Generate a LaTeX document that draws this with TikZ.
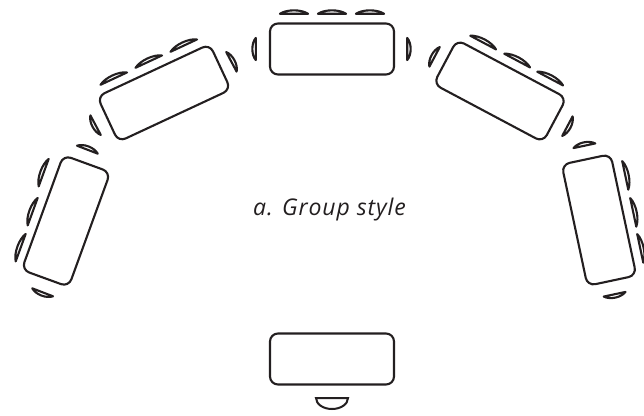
\documentclass[tikz,border=0pt]{standalone}
\usepackage{fontspec}
\usepackage{xcolor}
\usepackage{tikz}
\newfontfamily\captionfont[LetterSpace=4.0]{Open Sans}
\definecolor{inkdark}{HTML}{231F20}
\tikzset{
    deskbox/.style={draw=inkdark, line width=2.1pt, rounded corners=8pt, inner sep=0pt,
          minimum width=#1},
    seat/.pic={\draw[draw=inkdark, fill=white, line width=2.1pt, line join=round]
          (-#1/2+0.4,-1.8) .. controls (-#1/4,2.8) and (#1/4,2.8) .. (#1/2-0.4,-1.8) -- cycle;}
}

\begin{document}
\begin{tikzpicture}[x=1pt, y=1pt]
    \useasboundingbox (0,0) rectangle (644,415);
    % desks of the group
    \node[deskbox=124pt, minimum height=51pt] (desktop) at (332,366) {};
    \node[deskbox=124pt, minimum height=50pt, rotate=25] (deskupleft) at (164,322) {};
    \node[deskbox=50pt, minimum height=122pt, rotate=-20] (deskleft) at (66,194) {};
    \node[deskbox=124pt, minimum height=50pt, rotate=-28] (deskupright) at (500,324) {};
    \node[deskbox=50pt, minimum height=124pt, rotate=12] (deskright) at (599,195) {};
    \node[deskbox=124pt, minimum height=51pt] (deskfront) at (332,56) {};
    % seats: x/y/rotation/length
    \foreach \seatx/\seaty/\seatrot/\seatlen in {
        294/403/0/29, 332/403/0/29, 370/403/0/29, 254/366/90/23, 409/366/-90/23,
        113/338/25/30, 148/355/25/30, 183/371/25/30, 233/354/-62/23, 94/289/118/23,
        88/267/-21/23, 42/243/70/30, 31/204/70/30, 19/168/70/30, 42/121/159/23,
        484/374/-28/30, 518/356/-28/30, 551/338/-28/30, 433/359/62/23, 569/288/-118/23,
        584/271/12/23, 627/240/-78/30, 635/203/-78/30, 642/167/-78/30, 615/119/192/23}
      \pic[rotate=\seatrot] at (\seatx,\seaty) {seat=\seatlen};
    % seat of the front desk
    \draw[draw=inkdark, fill=white, line width=2pt] (316,17) arc[start angle=180, end angle=360, x radius=16, y radius=11] -- cycle;
    \node[text=inkdark, font=\captionfont\itshape\fontsize{23}{27}\selectfont] (grouplabel) at (329.5,205.5) {a. Group style};
\end{tikzpicture}
\end{document}
